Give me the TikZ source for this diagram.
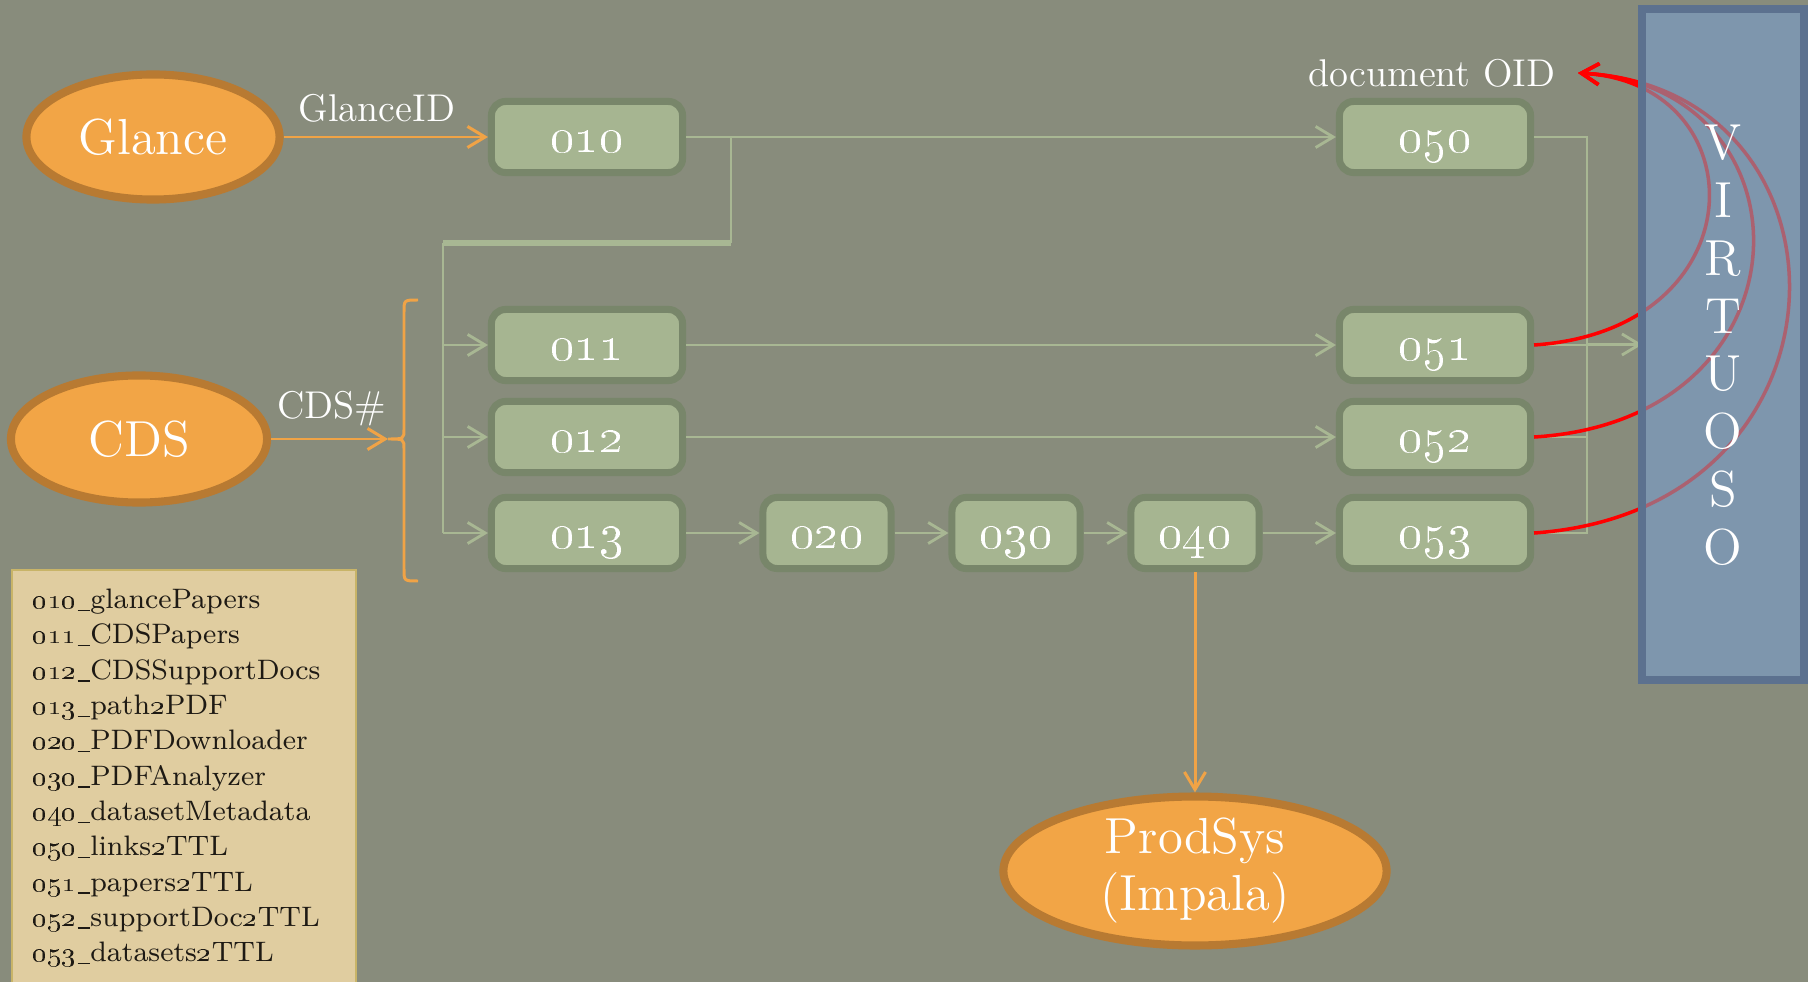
\documentclass[tikz,border=0pt]{standalone}
\usepackage{
	tikz,				% Drawing
	xcolor				% Colours
}
\usetikzlibrary{shapes.geometric,arrows.meta}

\definecolor{slate}{HTML}{888C7C}
\definecolor{boxfill}{HTML}{A6B591}
\definecolor{boxedge}{HTML}{78866A}
\definecolor{flowcol}{HTML}{A8B793}
\definecolor{srcfill}{HTML}{F2A546}
\definecolor{srcedge}{HTML}{B87A32}
\definecolor{feedcol}{HTML}{F0A346}
\definecolor{vfill}{HTML}{7E96AD}
\definecolor{vedge}{HTML}{5C718F}
\definecolor{parchment}{HTML}{E0CDA0}
\definecolor{parchedge}{HTML}{C8B468}
\definecolor{ink}{HTML}{1E1A14}

\newcommand{\uscore}{\kern0.03em\rule[-0.2ex]{0.42em}{0.05em}\kern0.03em}

\begin{document}
\begin{tikzpicture}[x=0.01cm,y=-0.01cm,
		box/.style={draw=boxedge,fill=boxfill,line width=2pt,rounded corners=4pt,
			minimum width=1.91cm,minimum height=0.71cm,inner sep=0pt,
			text=white,font=\Large,text height=9pt,text depth=0pt},
		smallbox/.style={box,minimum width=1.28cm},
		src/.style={ellipse,draw=srcedge,fill=srcfill,line width=2.3pt,inner sep=0pt,
			text=white,font=\Large},
		wire/.style={draw=flowcol,line width=0.8pt},
		flow/.style={wire,-{Straight Barb[length=5pt,width=6pt]}},
		feed/.style={draw=feedcol,line width=0.85pt,-{Straight Barb[length=5pt,width=6pt]}},
		bracket/.style={draw=feedcol,line width=0.85pt},
		oid/.style={draw=red,line width=1pt,-{Straight Barb[length=5pt,width=6pt]}},
		vbox/.style={fill=vfill,minimum width=1.60cm,minimum height=6.69cm,inner sep=0pt},
		vletter/.style={text=white,font=\Large,inner sep=0pt},
		lbl/.style={text=white,font=\fontsize{11}{13}\selectfont},
		legend/.style={fill=parchment,draw=parchedge,line width=0.6pt,text width=3.04cm,
			inner xsep=0.2cm,minimum height=4.16cm,align=left,text=ink,
			font=\fontsize{8}{10.04}\selectfont}]
	\useasboundingbox (0,0) rectangle (1808,982);
	\fill[slate] (0,0) rectangle (1808,982);

	\node[legend,anchor=north west] (key) at (11,569) {%
		\oldstylenums{010}\uscore glancePapers\\
		\oldstylenums{011}\uscore CDSPapers\\
		\oldstylenums{012}\uscore CDSSupportDocs\\
		\oldstylenums{013}\uscore path\oldstylenums{2}PDF\\
		\oldstylenums{020}\uscore PDFDownloader\\
		\oldstylenums{030}\uscore PDFAnalyzer\\
		\oldstylenums{040}\uscore datasetMetadata\\
		\oldstylenums{050}\uscore links\oldstylenums{2}TTL\\
		\oldstylenums{051}\uscore papers\oldstylenums{2}TTL\\
		\oldstylenums{052}\uscore supportDoc\oldstylenums{2}TTL\\
		\oldstylenums{053}\uscore datasets\oldstylenums{2}TTL};

	\node[src,minimum width=2.53cm,minimum height=1.25cm] (glance) at (153,137) {Glance};
	\node[src,minimum width=2.56cm,minimum height=1.27cm] (cds) at (139,439) {CDS};
	\node[src,minimum width=3.83cm,minimum height=1.40cm,align=center,
		font=\fontsize{14.4}{16.2}\selectfont] (prodsys) at (1195,871) {ProdSys\\(Impala)};

	\foreach \n/\x/\y in {010/587/137,011/587/345,012/587/437,013/587/533,
		050/1435/137,051/1435/345,052/1435/437,053/1435/533}
		\node[box] (b\n) at (\x,\y) {\oldstylenums{\n}};
	\foreach \n/\x in {020/827,030/1016,040/1195}
		\node[smallbox] (b\n) at (\x,533) {\oldstylenums{\n}};

	\node[vbox] (virtuoso) at (1723,344.5) {};

	\coordinate (brace) at (388,439);
	\coordinate (bend) at (731,243);
	\coordinate (bus) at (443,243);
	\coordinate (rail) at (1587,137);
	\coordinate (oid) at (1578,73);

	\draw[feed] (glance) -- (b010);
	\draw[feed] (cds) -- (brace);
	\draw[feed] (b040) -- (prodsys);
	\draw[bracket] (418,300) .. controls (404,300) .. (404,312) -- (404,429)
		.. controls (404,439) .. (brace) .. controls (404,439) .. (404,449)
		-- (404,569) .. controls (404,581) .. (418,581);

	\draw[wire] (b010) -- (bend |- b010) -- (bend);
	\draw[wire,line width=1.7pt] (bend) -- (bus);
	\draw[wire] (bus) -- (bus |- b013);
	\foreach \n in {011,012,013}
		\draw[flow] (bus |- b\n) -- (b\n);
	\draw[flow] (b010) -- (b050);
	\foreach \a/\b in {011/051,012/052,013/020,020/030,030/040,040/053}
		\draw[flow] (b\a) -- (b\b);

	\draw[wire] (b050) -- (rail) -- (rail |- b053) -- (b053);
	\foreach \n in {051,052}
		\draw[wire] (b\n) -- (rail |- b\n);
	\draw[flow] (rail |- virtuoso.west) -- (virtuoso.west);

	\draw[oid] (b051.east) .. controls (1759,330) and (1759,83) .. (oid);
	\draw[oid] (b052.east) .. controls (1818,420) and (1818,85) .. (oid);
	\draw[oid] (b053.east) .. controls (1866,510) and (1866,88) .. (oid);
	\fill[vfill,opacity=0.65] (virtuoso.south west) rectangle (virtuoso.north east);
	\draw[vedge,line width=2.3pt] (virtuoso.south west) rectangle (virtuoso.north east);
	\foreach \l [count=\i from 0] in {V,I,R,T,U,O,S,O}
		\node[vletter] (v\i) at (1723,143+57.7*\i) {\l};

	\node[lbl] (glanceid) at (377,108) {GlanceID};
	\node[lbl] (cdsid) at (332,409) {CDS\#};
	\node[lbl] (docoid) at (1432,73) {document OID};
\end{tikzpicture}
\end{document}
